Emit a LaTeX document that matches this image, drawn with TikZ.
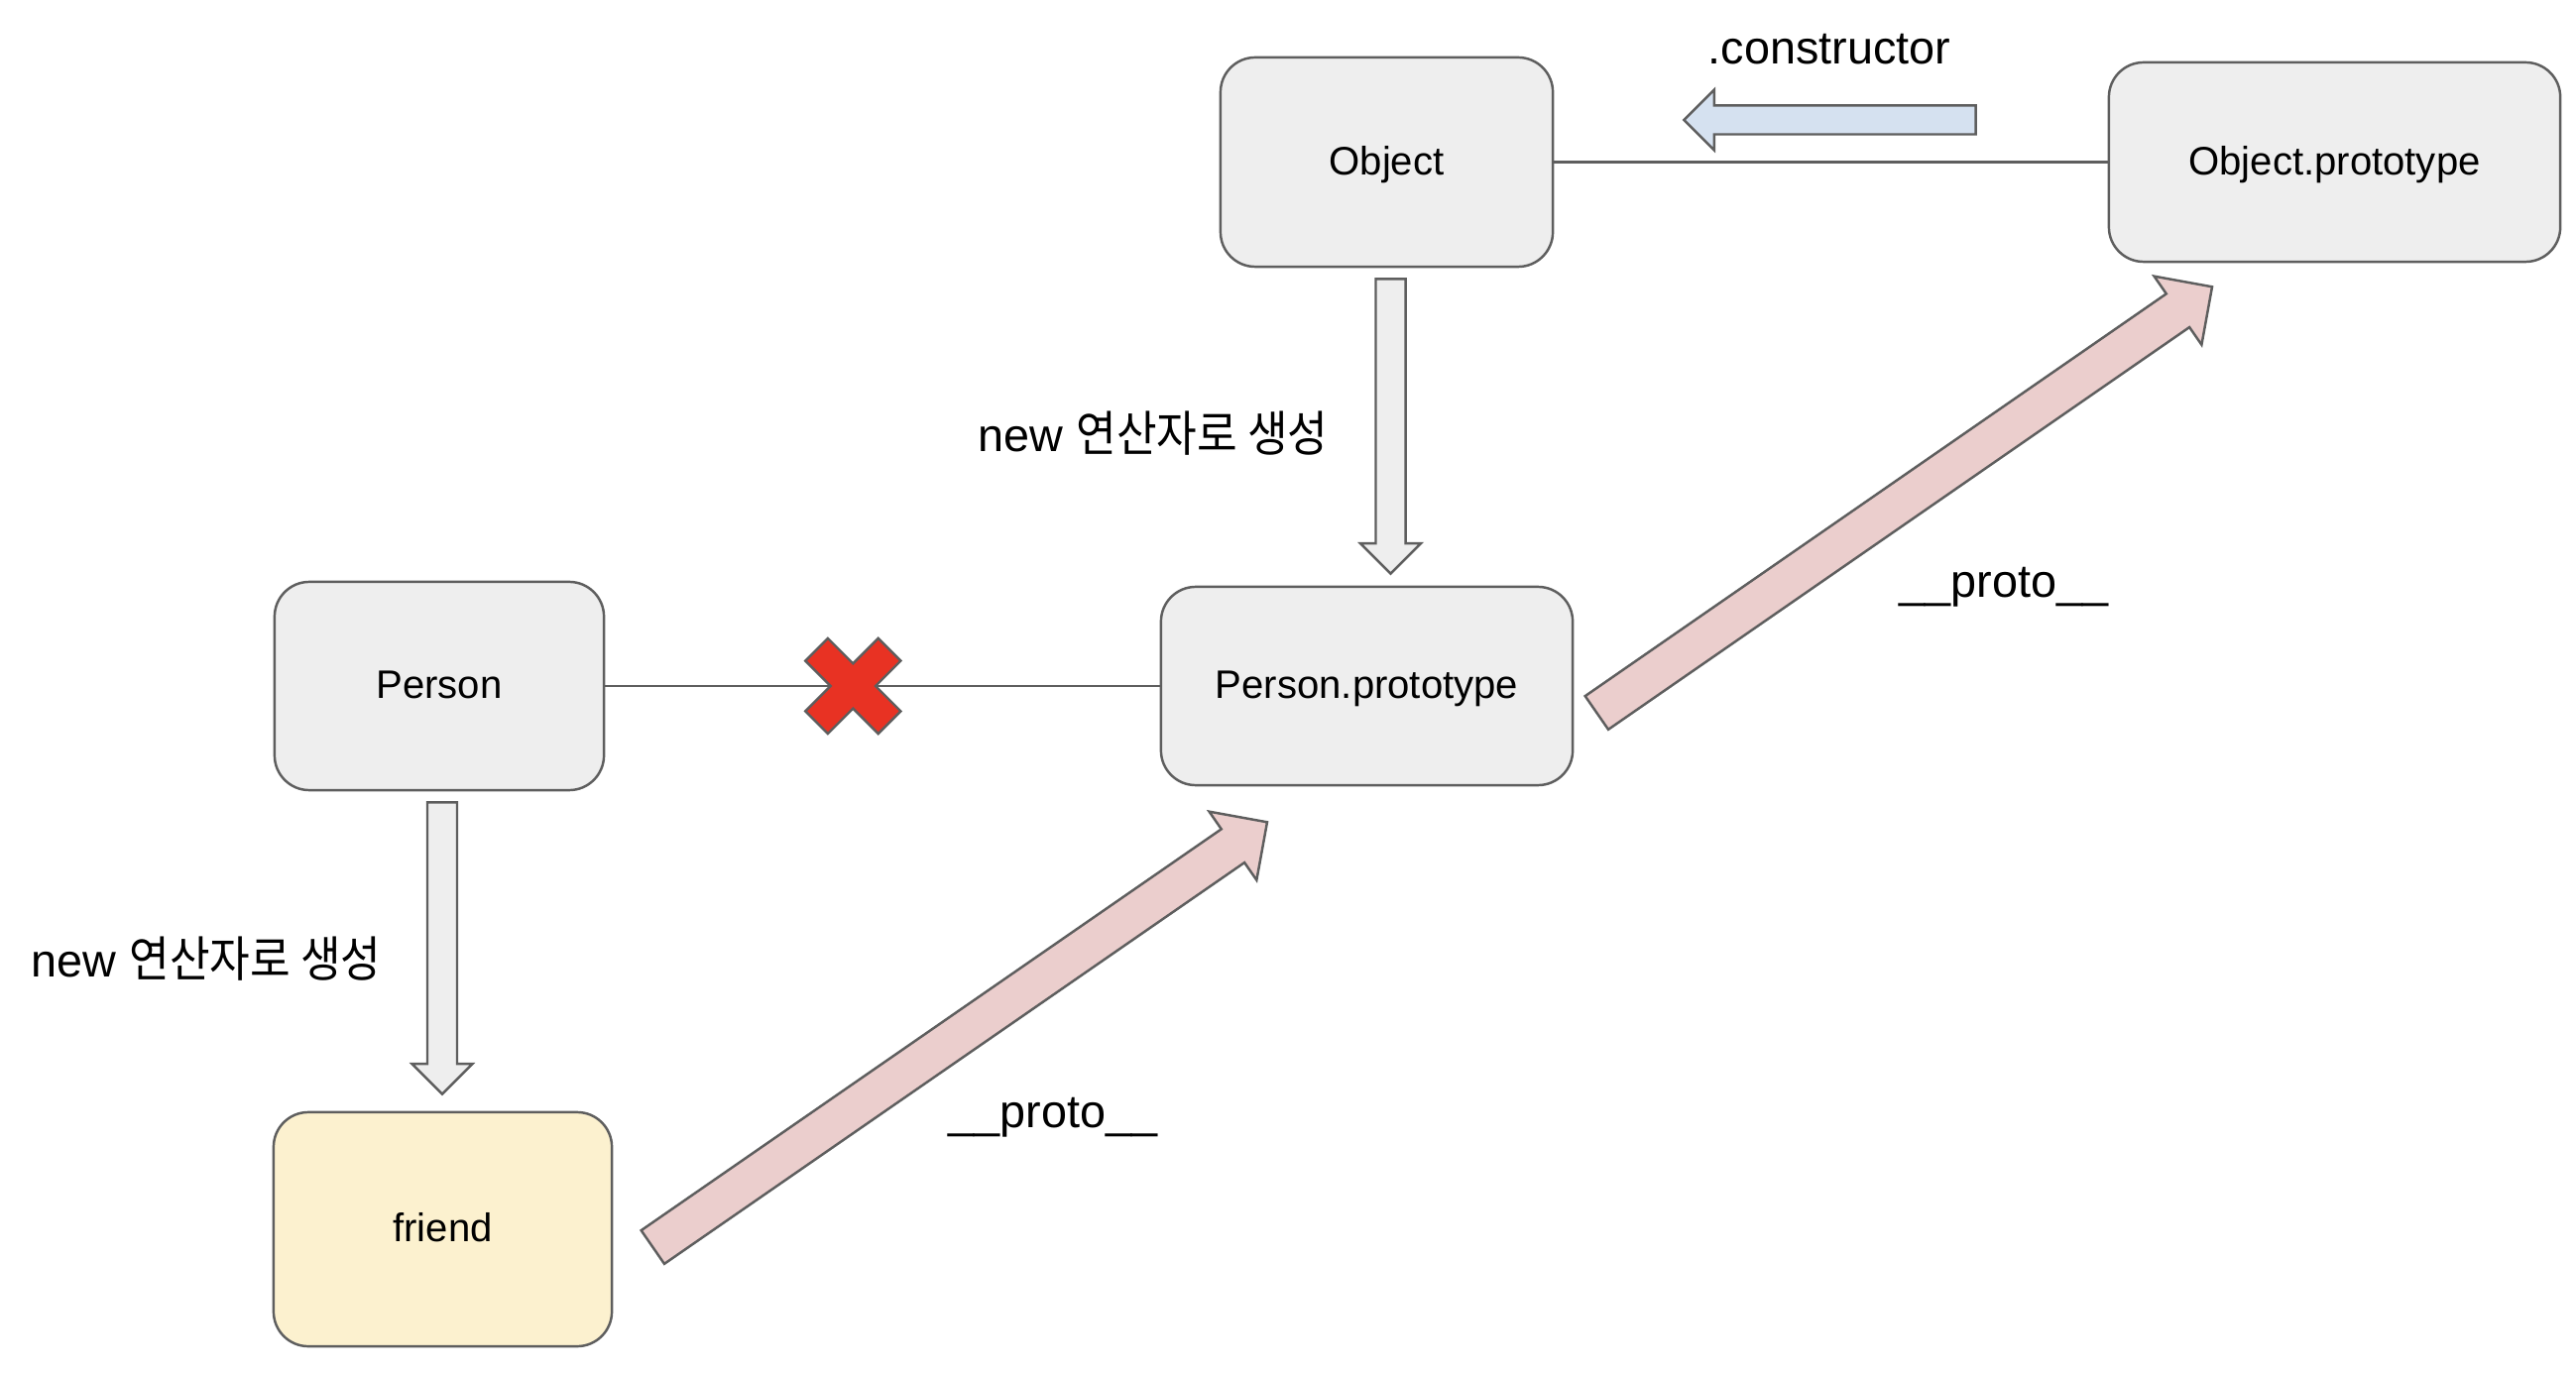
\documentclass[tikz,border=0pt]{standalone}
\usepackage{fontspec}
\setmainfont{Liberation Sans}
\newfontfamily\krfont[Scale=1.05, FakeStretch=0.9]{Noto Sans CJK KR}
\usetikzlibrary{calc}

\definecolor{boxfill}{HTML}{EEEEEE}
\definecolor{boxline}{HTML}{5E5E5E}
\definecolor{friendfill}{HTML}{FCF1CF}
\definecolor{protofill}{HTML}{EBCECD}
\definecolor{ctorfill}{HTML}{D5E1F0}
\definecolor{xred}{HTML}{E83223}

% fat arrow from #2 to #3, shaft half width #4, head half width and length #5
\newcommand{\blockarrow}[5]{%
	\draw[#1] let \p1=(#2), \p2=(#3), \n1={atan2(\y2-\y1,\x2-\x1)}, \n2={veclen(\x2-\x1,\y2-\y1)} in
		[shift={(\p1)}, rotate=\n1] (0pt,-#4) -- ({\n2-#5},-#4) -- ({\n2-#5},-#5) -- (\n2,0pt)
		-- ({\n2-#5},#5) -- ({\n2-#5},#4) -- (0pt,#4) -- cycle;}

\begin{document}
\begin{tikzpicture}[x=0.01cm, y=-0.01cm, line width=0.7pt,
	box/.style={draw=boxline, fill=boxfill, rounded corners=0.35cm, text height=0.72em, text depth=0pt,
		font=\fontsize{11.4}{13}\selectfont},
	link/.style={draw=boxline},
	lbl/.style={anchor=base, inner sep=0pt, font=\fontsize{13.3}{15}\selectfont},
	grayarrow/.style={draw=boxline, fill=boxfill},
	ctorarrow/.style={draw=boxline, fill=ctorfill},
	protoarrow/.style={draw=boxline, fill=protofill}]
			\useasboundingbox (0,0) rectangle (2598,1386);
			\node[box, minimum width=3.35cm, minimum height=2.11cm] (object) at (1398.5,163.5) {Object};
			\node[box, minimum width=4.55cm, minimum height=2.01cm] (objproto) at (2354.5,163.5) {Object.prototype};
			\node[box, minimum width=3.32cm, minimum height=2.10cm] (person) at (443,692) {Person};
			\node[box, minimum width=4.15cm, minimum height=2.00cm] (personproto) at (1378.5,692) {Person.prototype};
			\node[box, fill=friendfill, minimum width=3.41cm, minimum height=2.36cm] (friend) at (446.5,1240) {friend};

			\draw[link] (object) -- (objproto);
			\draw[link] (person) -- (personproto);

			% broken link
			\coordinate (cut) at ($(person.east)!0.447!(personproto.west)$);
			\begin{scope}[shift={(cut)}, rotate=45]
				\draw[draw=boxline, fill=xred] (16,52) -- (16,16) -- (52,16) -- (52,-16) -- (16,-16) -- (16,-52) -- (-16,-52)
					-- (-16,-16) -- (-52,-16) -- (-52,16) -- (-16,16) -- (-16,52) -- cycle;
			\end{scope}

			\coordinate (ctortail) at ($(objproto.west)+(-133,-42.5)$);
			\coordinate (ctortip) at ($(object.east)+(131,-42.5)$);
			\blockarrow{ctorarrow}{ctortail}{ctortip}{0.145cm}{0.305cm}

			\coordinate (newtail1) at ($(object.south)+(4,11)$);
			\coordinate (newtip1) at ($(object.south |- personproto.north)+(4,-12)$);
			\blockarrow{grayarrow}{newtail1}{newtip1}{0.15cm}{0.305cm}
			\coordinate (newtail2) at ($(person.south)+(3,11)$);
			\coordinate (newtip2) at ($(person.south |- friend.north)+(3,-17)$);
			\blockarrow{grayarrow}{newtail2}{newtip2}{0.15cm}{0.305cm}

			\coordinate (prototail1) at ($(friend.east)+(40,18)$);
			\coordinate (prototip1) at ($(personproto.south)+(-100.5,36)$);
			\blockarrow{protoarrow}{prototail1}{prototip1}{0.205cm}{0.42cm}
			\coordinate (prototail2) at ($(personproto.east)+(23,27)$);
			\coordinate (prototip2) at ($(objproto.south)+(-123.5,24)$);
			\blockarrow{protoarrow}{prototail2}{prototip2}{0.205cm}{0.42cm}

			\node[lbl] (ctorlabel) at (1845,65) {.constructor};
			\node[lbl] (newlabel1) at (1163,456) {new {\krfont 연산자로 생성}};
			\node[lbl] (newlabel2) at (208,985) {new {\krfont 연산자로 생성}};
			\node[lbl] (protolabel1) at (1062,1137) {\_\_proto\_\_};
			\node[lbl] (protolabel2) at (2021,603) {\_\_proto\_\_};
\end{tikzpicture}
\end{document}
